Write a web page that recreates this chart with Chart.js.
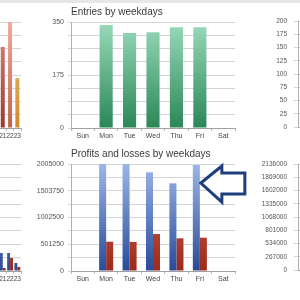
<!DOCTYPE html>
<html>
<head>
<meta charset="utf-8">
<script src="https://cdn.jsdelivr.net/npm/chart.js@4.4.1/dist/chart.umd.min.js"></script>
<style>
  html, body { margin: 0; padding: 0; background: #fff; }
  body { width: 300px; height: 300px; overflow: hidden; position: relative; }
  .topband { position: absolute; left: 0; top: 0; width: 300px; height: 3px; background: #e6e6e6; }
  .box { position: absolute; }
</style>
</head>
<body>
<div class="topband"></div>
<div class="box" style="left:-170px;top:2px"><canvas id="hourEntriesChart" width="195" height="143"></canvas></div>
<div class="box" style="left:-170px;top:147px"><canvas id="hourProfitsChart" width="195" height="143"></canvas></div>
<div class="box" style="left:30px;top:2px"><canvas id="entriesChart" width="215" height="143"></canvas></div>
<div class="box" style="left:30px;top:147px"><canvas id="profitsChart" width="220" height="143"></canvas></div>
<div class="box" style="left:250px;top:0px"><canvas id="rightTopChart" width="120" height="145"></canvas></div>
<div class="box" style="left:250px;top:147px"><canvas id="rightBottomChart" width="120" height="143"></canvas></div>
<script>
// weekday charts
const days = ['Sun', 'Mon', 'Tue', 'Wed', 'Thu', 'Fri', 'Sat'];
const entries = [0, 340, 314, 316, 333, 333, 0];
const profits = [0, 2005000, 2005000, 1849000, 1643000, 1986000, 0];
const losses = [0, 549000, 545000, 693000, 613000, 624000, 0];

// hourly charts (only the last hours are inside the picture)
const hours = ['0','1','2','3','4','5','6','7','8','9','10','11','12','13','14','15','16','17','18','19','20','21','22','23'];
const hourEntries = [null,null,null,null,null,null,null,null,null,null,null,null,null,null,null,null,null,null,null,null,null, 153, 200, 94];
const hourProfits = [null,null,null,null,null,null,null,null,null,null,null,null,null,null,null,null,null,null,null,null,null, 337000, 337000, 150000];
const hourLosses = [null,null,null,null,null,null,null,null,null,null,null,null,null,null,null,null,null,null,null,null,null, 56000, 244000, 75000];

// axis ticks
const entriesTicks = { max: 350, step: 43.75, labelEvery: 175 };
const profitsTicks = { max: 2005000, step: 250625, labelEvery: 501250 };
const hourEntriesTicks = { max: 200, step: 25 };
const rightTopTicks = { max: 200, step: 25 };
const rightBottomTicks = { max: 2136000, step: 267000 };

Chart.defaults.font.family = '"Liberation Sans", Arial, sans-serif';
Chart.defaults.animation = false;
Chart.defaults.plugins.legend.display = false;
Chart.defaults.plugins.tooltip.enabled = false;

function vGrad(top, bottom){
  return function(ctx){
    const chart = ctx.chart;
    const area = chart.chartArea;
    if(!area) return bottom;
    const g = chart.ctx.createLinearGradient(0, area.top, 0, area.bottom);
    g.addColorStop(0, top);
    g.addColorStop(1, bottom);
    return g;
  };
}

const hourColors = { 21: ['#d68f80', '#9c3a2c'], 22: ['#f0aa9c', '#c4604c'], 23: ['#f2c778', '#d08a2a'] };
function hourGrad(ctx){
  const c = hourColors[ctx.dataIndex] || ['#d68f80', '#9c3a2c'];
  return vGrad(c[0], c[1])(ctx);
}

function xAxis(height, size){
  return {
    afterFit: s => { s.height = height; },
    grid: { offset: true, drawOnChartArea: false, tickLength: 3, color: '#b8b8b8' },
    border: { color: '#a0a0a0' },
    ticks: { color: '#444', font: { size: size }, padding: 1, autoSkip: false, maxRotation: 0 }
  };
}

function yAxis(width, t, showLabels){
  return {
    min: 0, max: t.max,
    afterFit: s => { s.width = width; },
    grid: { color: '#d4d4d4', tickLength: 3 },
    border: { color: '#b0b0b0' },
    ticks: {
      stepSize: t.step, color: '#555', font: { size: 7 }, padding: 4, display: showLabels,
      callback: v => (t.labelEvery ? (Math.abs(v % t.labelEvery) < 1e-6 ? String(v) : '') : String(v))
    }
  };
}

// annotation arrow next to Friday
const arrowPlugin = {
  id: 'arrow',
  afterDraw(chart){
    const ctx = chart.ctx;
    const x0 = chart.scales.x.getPixelForValue(5) + 1;
    const y0 = chart.chartArea.top + 19;
    ctx.save();
    ctx.beginPath();
    ctx.moveTo(x0, y0);
    ctx.lineTo(x0 + 21, y0 - 17);
    ctx.lineTo(x0 + 21, y0 - 10);
    ctx.lineTo(x0 + 44, y0 - 10);
    ctx.lineTo(x0 + 44, y0 + 11);
    ctx.lineTo(x0 + 21, y0 + 11);
    ctx.lineTo(x0 + 21, y0 + 19);
    ctx.closePath();
    ctx.fillStyle = '#ffffff';
    ctx.fill();
    ctx.lineWidth = 3;
    ctx.lineJoin = 'miter';
    ctx.strokeStyle = '#1f3f7c';
    ctx.stroke();
    ctx.restore();
  }
};

new Chart(document.getElementById('entriesChart'), {
  type: 'bar',
  data: { labels: days, datasets: [{ data: entries, backgroundColor: vGrad('#9adbbb', '#2a8657'), categoryPercentage: 1, barPercentage: 0.56 }] },
  options: {
    responsive: false,
    layout: { padding: { top: 0, right: 10, left: 0, bottom: 0 } },
    plugins: {
      title: { display: true, text: 'Entries by weekdays', align: 'start', fullSize: false, color: '#3a3a3a', font: { size: 10, weight: 'normal' }, padding: { top: 4, bottom: 4 } }
    },
    scales: { x: xAxis(17, 7), y: yAxis(41, entriesTicks, true) }
  }
});

new Chart(document.getElementById('profitsChart'), {
  type: 'bar',
  data: {
    labels: days,
    datasets: [
      { data: profits, backgroundColor: vGrad('#9ab6ea', '#2a4a98'), categoryPercentage: 0.6, barPercentage: 1 },
      { data: losses, backgroundColor: vGrad('#e06a50', '#9a2a1c'), categoryPercentage: 0.6, barPercentage: 1 }
    ]
  },
  options: {
    responsive: false,
    layout: { padding: { top: 0, right: 15, left: 0, bottom: 0 } },
    plugins: {
      title: { display: true, text: 'Profits and losses by weekdays', align: 'start', fullSize: false, color: '#3a3a3a', font: { size: 10, weight: 'normal' }, padding: { top: 1, bottom: 4 } }
    },
    scales: { x: xAxis(19, 7), y: yAxis(41, profitsTicks, true) }
  },
  plugins: [arrowPlugin]
});

new Chart(document.getElementById('hourEntriesChart'), {
  type: 'bar',
  data: { labels: hours, datasets: [{ data: hourEntries, backgroundColor: hourGrad, categoryPercentage: 1, barPercentage: 0.55 }] },
  options: {
    responsive: false,
    layout: { padding: { top: 20, right: 4, left: 0, bottom: 0 } },
    scales: { x: xAxis(17, 6.5), y: yAxis(16, hourEntriesTicks, false) }
  }
});

new Chart(document.getElementById('hourProfitsChart'), {
  type: 'bar',
  data: {
    labels: hours,
    datasets: [
      { data: hourProfits, backgroundColor: vGrad('#9ab6ea', '#2a4a98'), categoryPercentage: 0.8, barPercentage: 1 },
      { data: hourLosses, backgroundColor: vGrad('#e06a50', '#9a2a1c'), categoryPercentage: 0.8, barPercentage: 1 }
    ]
  },
  options: {
    responsive: false,
    layout: { padding: { top: 17, right: 4, left: 0, bottom: 0 } },
    scales: { x: xAxis(19, 6.5), y: yAxis(16, profitsTicks, false) }
  }
});

function rightAxisChart(id, t, top, xh){
  new Chart(document.getElementById(id), {
    type: 'bar',
    data: { labels: ['', '', ''], datasets: [{ data: [] }] },
    options: {
      responsive: false,
      layout: { padding: { top: top, right: 0, left: 0, bottom: 0 } },
      scales: {
        x: { afterFit: s => { s.height = xh; }, grid: { display: false }, border: { color: '#b0b0b0' }, ticks: { display: false } },
        y: {
          min: 0, max: t.max,
          afterFit: s => { s.width = 48; },
          grid: { color: '#d4d4d4', tickLength: 4 },
          border: { color: '#b0b0b0' },
          ticks: { stepSize: t.step, color: '#555', font: { size: 6.5 }, padding: 7, callback: v => String(v) }
        }
      }
    }
  });
}
rightAxisChart('rightTopChart', rightTopTicks, 21, 18);
rightAxisChart('rightBottomChart', rightBottomTicks, 17, 20);
</script>
</body>
</html>
